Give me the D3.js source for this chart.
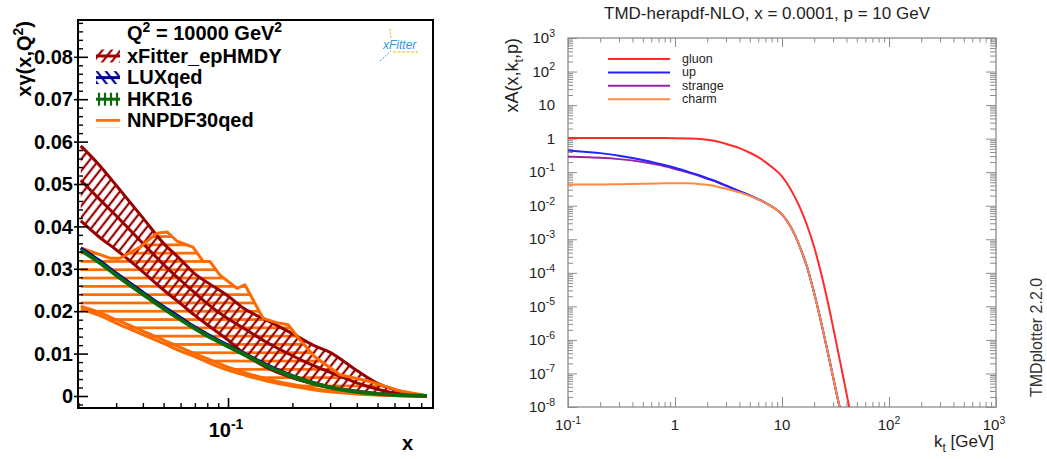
<!DOCTYPE html>
<html><head><meta charset="utf-8">
<script src="https://cdn.jsdelivr.net/npm/d3@7"></script>
<style>body{margin:0;background:#fff} svg{display:block}</style>
</head><body><svg id="c" width="1047" height="459"></svg>
<script>
// ---------------- LEFT PANEL DATA (x*gamma(x,Q^2), Q^2 = 10000 GeV^2) ----------------
const xGrid      = [0.0205,0.025,0.03,0.04,0.05,0.06,0.07,0.08,0.1,0.12,0.15,0.2,0.25,0.3,0.4,0.5,0.6,0.7,0.8,0.85];
const xfitterUp  = [0.0590,0.0545,0.0497,0.0420,0.0360,0.0322,0.0288,0.0268,0.0236,0.0205,0.0180,0.0147,0.0120,0.0103,0.0060,0.0030,0.0015,0.0007,0.0002,0.0001];
const xfitterCen = [0.0509,0.0465,0.0425,0.0360,0.0310,0.0273,0.0243,0.0218,0.0182,0.0158,0.0128,0.0095,0.0072,0.0056,0.0031,0.0016,0.0007,0.0003,0.0001,0.00005];
const xfitterLow = [0.0413,0.0375,0.0345,0.0293,0.0250,0.0218,0.0190,0.0168,0.0132,0.0098,0.0068,0.0043,0.0029,0.0020,0.0009,0.0004,0.0002,0.0001,0.00003,0.00001];
const luxqed     = [0.0349,0.0320,0.0290,0.0245,0.0211,0.0185,0.0163,0.0146,0.0120,0.0100,0.0075,0.0048,0.0032,0.0021,0.0011,0.00055,0.00028,0.00011,0.00004,0.00001];
const hkr16      = [0.0344,0.0315,0.0285,0.0240,0.0206,0.0180,0.0159,0.0142,0.0117,0.0097,0.0072,0.0046,0.0030,0.0020,0.0010,0.0005,0.00025,0.0001,0.00003,0.00001];
const nnpdfLow   = [0.0205,0.0190,0.0172,0.0145,0.0124,0.0106,0.0093,0.0080,0.0061,0.0049,0.0036,0.0023,0.0015,0.0010,0.0005,0.00025,0.0001,0.00005,0.00002,0.00001];
const nnpdfMid   = [0.0212,0.0197,0.0180,0.0153,0.0132,0.0114,0.0100,0.0088,0.0068,0.0055,0.0041,0.0027,0.0018,0.0012,0.0006,0.0003,0.00013,0.00006,0.00002,0.00001];
const nnpdfUpX   = [0.0205,0.0281,0.0313,0.0385,0.0466,0.0519,0.0578,0.0686,0.0764,0.0824,0.0917,0.110,0.120,0.146,0.169,0.191,0.217,0.255,0.333,0.461,0.636,0.83];
const nnpdfUpY   = [0.0349,0.0325,0.0325,0.0350,0.0384,0.0387,0.0365,0.0351,0.0318,0.0317,0.0285,0.0254,0.0262,0.0183,0.0173,0.0168,0.0132,0.0092,0.0050,0.0034,0.0012,0.0002];
const leftYTicks  = [0,0.01,0.02,0.03,0.04,0.05,0.06,0.07,0.08];
const leftYLabels = ["0","0.01","0.02","0.03","0.04","0.05","0.06","0.07","0.08"];
const leftLegend  = ["xFitter_epHMDY","LUXqed","HKR16","NNPDF30qed"];

// ---------------- RIGHT PANEL DATA (xA(x,kt,p)) ----------------
const kt      = [0.1,0.15,0.2,0.3,0.5,0.7,1,1.3,1.6,2,2.5,3,4,5,6,7,8.2,10,12,13,15,17,20,24,28,33,36,42,45];
const gluon   = [1.05,1.05,1.05,1.05,1.05,1.04,1.03,1.01,0.99,0.93,0.82,0.70,0.52,0.38,0.28,0.20,0.135,0.075,0.0316,0.0197,0.0077,0.0028,5.8e-4,6.2e-5,7.0e-6,5.5e-7,1.4e-7,1.2e-8,3.8e-9];
const up      = [0.44,0.40,0.37,0.31,0.23,0.18,0.135,0.105,0.085,0.066,0.051,0.040,0.0272,0.0204,0.0156,0.0122,0.0091,0.0055,0.0024,0.00148,5.0e-4,1.62e-4,2.45e-5,2.1e-6,2.24e-7,1.9e-8,5.6e-9,6e-10,2e-10];
const strange = [0.29,0.28,0.27,0.245,0.20,0.165,0.125,0.100,0.082,0.064,0.050,0.039,0.0268,0.0202,0.0155,0.0122,0.0091,0.0055,0.0024,0.00148,5.0e-4,1.62e-4,2.45e-5,2.1e-6,2.24e-7,1.9e-8,5.6e-9,6e-10,2e-10];
const charm   = [0.043,0.043,0.043,0.044,0.045,0.046,0.047,0.047,0.045,0.042,0.037,0.032,0.0250,0.0196,0.0153,0.0121,0.0091,0.0055,0.0024,0.00148,5.0e-4,1.62e-4,2.45e-5,2.1e-6,2.24e-7,1.9e-8,5.6e-9,6e-10,2e-10];
const rightSeries = ["gluon","up","strange","charm"];
const rightYExp = [3,2,1,0,-1,-2,-3,-4,-5,-6,-7,-8];
const rightXExp = [-1,0,1,2,3];

// ---------------- drawing ----------------
const svg = d3.select("#c");
const defs = svg.append("defs");
const C = {xf:"#990000", lux:"#000099", hkr:"#0b6b0b", nn:"#ff6a00",
           gluon:"#ff2a2a", up:"#2323ff", strange:"#9a22a8", charm:"#ff8a3d"};
const FB = "'Liberation Sans', Arial, Helvetica, sans-serif";

function hatch(id,color,angle,sp,w){
  const p = defs.append("pattern").attr("id",id).attr("patternUnits","userSpaceOnUse")
    .attr("width",sp).attr("height",sp).attr("patternTransform",`rotate(${angle})`);
  p.append("line").attr("x1",sp/2).attr("x2",sp/2).attr("y1",-1).attr("y2",sp+1)
    .attr("stroke",color).attr("stroke-width",w);
}
hatch("hXF", C.xf, 38, 7.2, 2.2);
hatch("hNN", C.nn, 90, 8.3, 2.7);
hatch("hLUX", C.lux, -38, 7.2, 2.2);
hatch("hHKR", C.hkr, 0, 6, 2.2);

function rich(text, parts, size){
  let shift = 0;
  parts.forEach(p=>{
    const target = p.sup ? -0.42*size : (p.sub ? 0.28*size : 0);
    const ts = text.append("tspan").text(p.t).attr("dy", target - shift);
    if (p.sup || p.sub) ts.attr("font-size", size*0.7);
    shift = target;
  });
}

// ===== LEFT PANEL =====
const L = {x0:78, x1:433, y0:20, y1:408};
const xL = d3.scaleLog().domain([0.0199,0.908]).range([L.x0,L.x1]);
const yL = d3.scaleLinear().domain([-0.00283,0.08868]).range([L.y1,L.y0]);

defs.append("clipPath").attr("id","clipL").append("rect")
  .attr("x",L.x0).attr("y",L.y0).attr("width",L.x1-L.x0).attr("height",L.y1-L.y0);
const gL = svg.append("g").attr("clip-path","url(#clipL)");

const lineL = (xs,ys,curve)=> d3.line().x((d,i)=>xL(xs[i])).y(d=>yL(d)).curve(curve||d3.curveMonotoneX)(ys);
function bandPath(xsU,ysU,xsD,ysD){
  const pts = xsU.map((x,i)=>[xL(x),yL(ysU[i])]);
  for(let i=xsD.length-1;i>=0;i--) pts.push([xL(xsD[i]),yL(ysD[i])]);
  return d3.line().curve(d3.curveLinearClosed)(pts);
}

// NNPDF hatch band
gL.append("path").attr("d", bandPath(nnpdfUpX,nnpdfUpY,xGrid,nnpdfLow)).attr("fill","url(#hNN)");
// xFitter hatch band
gL.append("path").attr("d", bandPath(xGrid,xfitterUp,xGrid,xfitterLow)).attr("fill","url(#hXF)");
// xFitter lines
[xfitterUp,xfitterCen,xfitterLow].forEach(s=>{
  gL.append("path").attr("d",lineL(xGrid,s)).attr("fill","none").attr("stroke",C.xf).attr("stroke-width",3);
});
// NNPDF lines
gL.append("path").attr("d",lineL(nnpdfUpX,nnpdfUpY,d3.curveLinear)).attr("fill","none").attr("stroke",C.nn).attr("stroke-width",3).attr("stroke-linejoin","round");
[nnpdfLow,nnpdfMid].forEach(s=>{
  gL.append("path").attr("d",lineL(xGrid,s)).attr("fill","none").attr("stroke",C.nn).attr("stroke-width",3);
});
// LUXqed & HKR16
gL.append("path").attr("d",lineL(xGrid,luxqed)).attr("fill","none").attr("stroke",C.lux).attr("stroke-width",3);
gL.append("path").attr("d",lineL(xGrid,hkr16)).attr("fill","none").attr("stroke",C.hkr).attr("stroke-width",4);

// axes (ticks only)
const yMinorL = d3.range(-1,45).map(i=>i*0.002).filter(v=>Math.abs(v*100-Math.round(v*100))>1e-6);
const xMinorL = [0.02,0.03,0.04,0.05,0.06,0.07,0.08,0.09,0.2,0.3,0.4,0.5,0.6,0.7,0.8,0.9];
function styleAxis(g,col,w){ g.select(".domain").remove(); g.selectAll("line").attr("stroke",col).attr("stroke-width",w); g.selectAll("text").remove(); }
svg.append("g").attr("transform",`translate(${L.x0},0)`).call(d3.axisLeft(yL).tickValues(leftYTicks).tickSizeInner(-10).tickSizeOuter(0)).call(g=>styleAxis(g,"#000",1.6));
svg.append("g").attr("transform",`translate(${L.x0},0)`).call(d3.axisLeft(yL).tickValues(leftYTicks).tickSizeInner(4).tickSizeOuter(0)).call(g=>styleAxis(g,"#000",1.6));
svg.append("g").attr("transform",`translate(${L.x0},0)`).call(d3.axisLeft(yL).tickValues(yMinorL).tickSizeInner(-5).tickSizeOuter(0)).call(g=>styleAxis(g,"#000",1.4));
svg.append("g").attr("transform",`translate(0,${L.y1})`).call(d3.axisBottom(xL).tickValues([0.1]).tickSizeInner(-10).tickSizeOuter(0)).call(g=>styleAxis(g,"#000",1.6));
svg.append("g").attr("transform",`translate(0,${L.y1})`).call(d3.axisBottom(xL).tickValues(xMinorL).tickSizeInner(-5).tickSizeOuter(0)).call(g=>styleAxis(g,"#000",1.4));
svg.append("rect").attr("x",L.x0).attr("y",L.y0).attr("width",L.x1-L.x0).attr("height",L.y1-L.y0)
  .attr("fill","none").attr("stroke","#000").attr("stroke-width",2);

// labels
leftYTicks.forEach((v,i)=>{
  svg.append("text").attr("x",73).attr("y",yL(v)+7.2).attr("text-anchor","end")
    .attr("font-family",FB).attr("font-weight","bold").attr("font-size",20).text(leftYLabels[i]);
});
{
  const t = svg.append("text").attr("x",xL(0.1)-2).attr("y",437).attr("text-anchor","middle")
    .attr("font-family",FB).attr("font-weight","bold").attr("font-size",20);
  rich(t,[{t:"10"},{t:"-1",sup:true}],20);
}
svg.append("text").attr("x",413).attr("y",450).attr("text-anchor","end")
  .attr("font-family",FB).attr("font-weight","bold").attr("font-size",20).text("x");
{
  const t = svg.append("text").attr("transform","translate(31,21) rotate(-90)").attr("text-anchor","end")
    .attr("font-family",FB).attr("font-weight","bold").attr("font-size",20);
  rich(t,[{t:"x"},{t:"\u03B3"},{t:"(x,Q"},{t:"2",sup:true},{t:")"}],20);
}
// legend
{
  const t = svg.append("text").attr("x",127).attr("y",40)
    .attr("font-family",FB).attr("font-weight","bold").attr("font-size",20);
  rich(t,[{t:"Q"},{t:"2",sup:true},{t:" = 10000 GeV"},{t:"2",sup:true}],20);
}
const legCols = [C.xf,C.lux,C.hkr,C.nn], legPat = ["hXF","hLUX","hHKR","hNN"];
leftLegend.forEach((name,i)=>{
  const cy = 56 + i*21.6;
  svg.append("rect").attr("x",96).attr("y",cy-6.5).attr("width",24).attr("height",13).attr("fill",`url(#${legPat[i]})`);
  if(i<3) svg.append("line").attr("x1",96).attr("x2",120).attr("y1",cy).attr("y2",cy).attr("stroke",legCols[i]).attr("stroke-width",3);
  svg.append("text").attr("x",127).attr("y",cy+6.5).attr("font-family",FB).attr("font-weight","bold").attr("font-size",20).text(name);
});
// xFitter logo
svg.append("text").attr("x",383).attr("y",49).attr("font-family",FB).attr("font-style","italic")
  .attr("font-size",12).attr("fill","#2a9bd8").text("xFitter");
svg.append("line").attr("x1",393).attr("x2",418).attr("y1",52).attr("y2",52).attr("stroke","#f2b600").attr("stroke-width",1).attr("stroke-dasharray","3,1.5");
svg.append("line").attr("x1",390).attr("x2",391).attr("y1",29).attr("y2",38).attr("stroke","#f2b600").attr("stroke-width",1).attr("stroke-dasharray","2,1.5");
svg.append("line").attr("x1",380).attr("x2",391).attr("y1",61).attr("y2",51).attr("stroke","#2a9bd8").attr("stroke-width",1).attr("stroke-dasharray","2,1.5");

// ===== RIGHT PANEL =====
const R = {x0:568, x1:996, y0:38, y1:407};
const xR = d3.scaleLog().domain([0.1,1000]).range([R.x0,R.x1]);
const yR = d3.scaleLog().domain([1e-8,1e3]).range([R.y1,R.y0]);
defs.append("clipPath").attr("id","clipR").append("rect")
  .attr("x",R.x0).attr("y",R.y0).attr("width",R.x1-R.x0).attr("height",R.y1-R.y0);

const xMajR = rightXExp.map(e=>Math.pow(10,e));
const yMajR = rightYExp.map(e=>Math.pow(10,e));
const xMinR = []; rightXExp.slice(0,-1).forEach(e=>{for(let k=2;k<10;k++) xMinR.push(k*Math.pow(10,e));});
const yMinR = []; rightYExp.slice(1).forEach(e=>{for(let k=2;k<10;k++) yMinR.push(k*Math.pow(10,e));});
const GR = "#8c8c8c";
svg.append("g").attr("transform",`translate(0,${R.y1})`).call(d3.axisBottom(xR).tickValues(xMajR).tickSizeInner(-10).tickSizeOuter(0)).call(g=>styleAxis(g,GR,1));
svg.append("g").attr("transform",`translate(0,${R.y1})`).call(d3.axisBottom(xR).tickValues(xMinR).tickSizeInner(-5).tickSizeOuter(0)).call(g=>styleAxis(g,GR,1));
svg.append("g").attr("transform",`translate(0,${R.y0})`).call(d3.axisTop(xR).tickValues(xMajR).tickSizeInner(-9).tickSizeOuter(0)).call(g=>styleAxis(g,GR,1));
svg.append("g").attr("transform",`translate(0,${R.y0})`).call(d3.axisTop(xR).tickValues(xMinR).tickSizeInner(-4.5).tickSizeOuter(0)).call(g=>styleAxis(g,GR,1));
svg.append("g").attr("transform",`translate(${R.x0},0)`).call(d3.axisLeft(yR).tickValues(yMajR).tickSizeInner(-9).tickSizeOuter(0)).call(g=>styleAxis(g,GR,1));
svg.append("g").attr("transform",`translate(${R.x0},0)`).call(d3.axisLeft(yR).tickValues(yMinR).tickSizeInner(-5).tickSizeOuter(0)).call(g=>styleAxis(g,GR,1));
svg.append("g").attr("transform",`translate(${R.x1},0)`).call(d3.axisRight(yR).tickValues(yMajR).tickSizeInner(-10).tickSizeOuter(0)).call(g=>styleAxis(g,GR,1));
svg.append("g").attr("transform",`translate(${R.x1},0)`).call(d3.axisRight(yR).tickValues(yMinR).tickSizeInner(-6).tickSizeOuter(0)).call(g=>styleAxis(g,GR,1));
svg.append("rect").attr("x",R.x0).attr("y",R.y0).attr("width",R.x1-R.x0).attr("height",R.y1-R.y0)
  .attr("fill","none").attr("stroke",GR).attr("stroke-width",1.3);

const gR = svg.append("g").attr("clip-path","url(#clipR)");
const seriesData = {gluon, up, strange, charm};
const lineR = d3.line().x((d,i)=>xR(kt[i])).y(d=>yR(d)).curve(d3.curveMonotoneX);
["gluon","strange","up","charm"].forEach(s=>{
  gR.append("path").attr("d",lineR(seriesData[s])).attr("fill","none").attr("stroke",C[s]).attr("stroke-width",2);
});

// right labels
const TC = "#1e1e1e";
rightYExp.forEach(e=>{
  const t = svg.append("text").attr("x",555).attr("y",yR(Math.pow(10,e))+5.2).attr("text-anchor","end")
    .attr("font-family",FB).attr("font-size",15).attr("fill",TC);
  if(e===0) t.text("1"); else if(e===1) t.text("10"); else rich(t,[{t:"10"},{t:String(e),sup:true}],15);
});
rightXExp.forEach(e=>{
  const t = svg.append("text").attr("x",xR(Math.pow(10,e))-(e===3?2:0)).attr("y",430).attr("text-anchor","middle")
    .attr("font-family",FB).attr("font-size",15).attr("fill",TC);
  if(e===0) t.text("1"); else if(e===1) t.text("10"); else rich(t,[{t:"10"},{t:String(e),sup:true}],15);
});
svg.append("text").attr("x",767).attr("y",19).attr("text-anchor","middle").attr("font-family",FB)
  .attr("font-size",17).attr("fill",TC).text("TMD-herapdf-NLO, x = 0.0001, p = 10 GeV");
{
  const t = svg.append("text").attr("x",994).attr("y",447).attr("text-anchor","end")
    .attr("font-family",FB).attr("font-size",17).attr("fill",TC);
  rich(t,[{t:"k"},{t:"t",sub:true},{t:" [GeV]"}],17);
}
{
  const t = svg.append("text").attr("transform","translate(518,38) rotate(-90)").attr("text-anchor","end")
    .attr("font-family",FB).attr("font-size",18).attr("fill",TC);
  rich(t,[{t:"xA(x,k"},{t:"t",sub:true},{t:",p)"}],18);
}
svg.append("text").attr("transform","translate(1042,397) rotate(-90)").attr("text-anchor","start")
  .attr("font-family",FB).attr("font-size",16).attr("fill","#333").text("TMDplotter 2.2.0");
// right legend
rightSeries.forEach((s,i)=>{
  const cy = 59 + i*13.4;
  svg.append("line").attr("x1",608).attr("x2",670).attr("y1",cy).attr("y2",cy).attr("stroke",C[s]).attr("stroke-width",2);
  svg.append("text").attr("x",682).attr("y",cy+4).attr("font-family",FB).attr("font-size",12.5).attr("fill",TC).text(s);
});
</script></body></html>
